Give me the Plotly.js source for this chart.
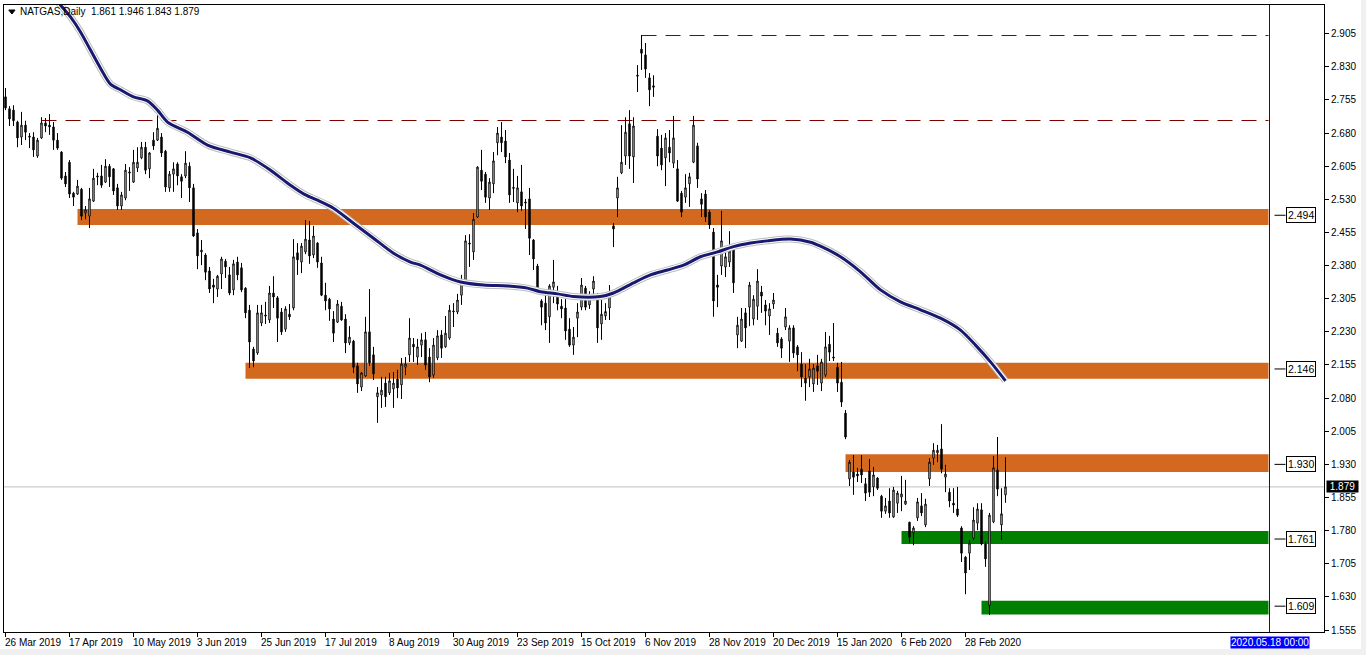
<!DOCTYPE html>
<html>
<head>
<meta charset="utf-8">
<script src="https://cdn.plot.ly/plotly-3.0.1.min.js"></script>
<style>
  html, body { margin:0; padding:0; background:#F0F0F0; }
  #chart { position:absolute; left:0; top:0; width:1361px; height:649px; background:#fff; }
</style>
</head>
<body>
<div id="chart"></div>
<script>
// ---- Daily NATGAS candles (bar 0 = 26 Mar 2019) ----
const openP = [
2.762,2.735,2.732,2.705,2.671,2.698,2.673,2.671,2.628,2.669,
2.703,2.698,2.694,2.664,2.637,2.583,2.614,2.544,2.542,2.553,
2.499,2.492,2.526,2.583,2.583,2.569,2.605,2.599,2.556,2.515,
2.533,2.592,2.569,2.601,2.624,2.648,2.599,2.664,2.664,2.671,
2.639,2.556,2.587,2.610,2.581,2.583,2.605,2.556,2.454,2.411,
2.404,2.368,2.336,2.327,2.361,2.390,2.359,2.325,2.388,2.375,
2.329,2.279,2.191,2.182,2.250,2.268,2.257,2.318,2.307,2.275,
2.236,2.270,2.284,2.409,2.388,2.411,2.438,2.404,2.431,2.386,
2.313,2.304,2.259,2.252,2.288,2.259,2.205,2.209,2.153,2.105,
2.130,2.230,2.178,2.083,2.087,2.114,2.092,2.101,2.123,2.110,
2.150,2.178,2.202,2.173,2.200,2.212,2.173,2.132,2.171,2.223,
2.196,2.216,2.275,2.275,2.313,2.341,2.431,2.411,2.490,2.596,
2.587,2.533,2.565,2.658,2.671,2.662,2.619,2.557,2.522,2.547,
2.524,2.531,2.438,2.379,2.300,2.295,2.264,2.331,2.320,2.288,
2.284,2.236,2.200,2.261,2.286,2.329,2.291,2.327,2.309,2.248,
2.266,2.284,2.470,2.533,2.590,2.628,2.701,2.626,2.811,2.870,
2.857,2.805,2.787,2.673,2.646,2.624,2.648,2.612,2.599,2.544,
2.535,2.565,2.614,2.651,2.531,2.542,2.501,2.456,2.336,2.379,
2.377,2.388,2.420,2.223,2.209,2.273,2.286,2.259,2.288,2.320,
2.291,2.266,2.293,2.227,2.214,2.241,2.209,2.239,2.196,2.157,
2.125,2.128,2.112,2.153,2.114,2.132,2.202,2.173,2.150,2.116,
2.046,1.897,1.913,1.908,1.919,1.886,1.915,1.879,1.899,1.858,
1.824,1.847,1.811,1.842,1.856,1.840,1.799,1.775,1.809,1.836,
1.793,1.897,1.944,1.956,1.965,1.901,1.867,1.842,1.829,1.786,
1.720,1.729,1.763,1.797,1.827,1.750,1.611,1.800,1.917,1.793,
1.861];
const highP = [
2.782,2.741,2.743,2.708,2.728,2.708,2.680,2.682,2.669,2.716,
2.714,2.723,2.705,2.680,2.639,2.592,2.619,2.547,2.574,2.556,
2.515,2.556,2.599,2.590,2.608,2.621,2.610,2.601,2.565,2.547,
2.610,2.603,2.642,2.648,2.660,2.660,2.637,2.682,2.728,2.680,
2.642,2.594,2.614,2.614,2.587,2.639,2.614,2.565,2.463,2.438,
2.408,2.377,2.350,2.359,2.400,2.395,2.377,2.393,2.400,2.386,
2.331,2.291,2.196,2.291,2.291,2.298,2.334,2.356,2.311,2.284,
2.288,2.293,2.440,2.431,2.431,2.483,2.481,2.470,2.433,2.400,
2.341,2.307,2.277,2.302,2.298,2.270,2.243,2.212,2.160,2.139,
2.264,2.327,2.196,2.105,2.128,2.128,2.137,2.139,2.144,2.171,
2.173,2.261,2.216,2.214,2.227,2.230,2.193,2.216,2.234,2.234,
2.266,2.291,2.295,2.316,2.359,2.449,2.451,2.499,2.605,2.642,
2.592,2.578,2.637,2.694,2.705,2.687,2.635,2.599,2.583,2.608,
2.531,2.556,2.440,2.384,2.304,2.318,2.338,2.393,2.334,2.304,
2.304,2.261,2.241,2.295,2.352,2.334,2.322,2.356,2.318,2.302,
2.295,2.336,2.476,2.581,2.698,2.716,2.732,2.716,2.834,2.902,
2.884,2.816,2.811,2.689,2.676,2.680,2.687,2.719,2.619,2.549,
2.587,2.590,2.719,2.658,2.544,2.551,2.506,2.465,2.359,2.504,
2.424,2.458,2.424,2.264,2.284,2.284,2.343,2.313,2.372,2.334,
2.302,2.295,2.318,2.239,2.218,2.284,2.245,2.245,2.200,2.184,
2.157,2.169,2.157,2.178,2.169,2.230,2.221,2.250,2.160,2.162,
2.053,1.940,1.951,1.922,1.951,1.899,1.942,1.924,1.901,1.861,
1.854,1.876,1.879,1.870,1.904,1.895,1.800,1.790,1.854,1.865,
1.852,1.944,1.978,1.974,2.021,1.929,1.876,1.876,1.879,1.790,
1.722,1.759,1.833,1.842,1.842,1.756,1.820,1.949,1.992,1.876,
1.946];
const lowP = [
2.732,2.696,2.696,2.648,2.653,2.664,2.646,2.626,2.624,2.667,
2.682,2.676,2.642,2.642,2.574,2.558,2.533,2.515,2.540,2.483,
2.485,2.465,2.524,2.562,2.556,2.567,2.558,2.540,2.506,2.506,
2.528,2.549,2.567,2.592,2.621,2.587,2.578,2.642,2.662,2.626,
2.547,2.547,2.547,2.562,2.533,2.578,2.524,2.445,2.372,2.381,
2.347,2.318,2.295,2.309,2.327,2.352,2.313,2.313,2.347,2.320,
2.261,2.148,2.150,2.178,2.243,2.248,2.250,2.284,2.207,2.223,
2.230,2.257,2.279,2.359,2.363,2.406,2.384,2.397,2.375,2.311,
2.279,2.255,2.207,2.250,2.255,2.182,2.200,2.137,2.092,2.096,
2.128,2.153,2.121,2.024,2.058,2.060,2.087,2.058,2.080,2.078,
2.132,2.162,2.162,2.155,2.173,2.144,2.116,2.126,2.166,2.171,
2.194,2.212,2.241,2.270,2.291,2.336,2.377,2.393,2.488,2.551,
2.522,2.506,2.544,2.630,2.637,2.612,2.522,2.524,2.501,2.504,
2.463,2.404,2.370,2.318,2.245,2.234,2.205,2.295,2.279,2.261,
2.212,2.196,2.178,2.218,2.279,2.279,2.282,2.302,2.205,2.212,
2.257,2.257,2.422,2.490,2.587,2.608,2.599,2.567,2.773,2.823,
2.805,2.741,2.762,2.605,2.596,2.560,2.614,2.601,2.524,2.490,
2.522,2.513,2.612,2.556,2.490,2.479,2.463,2.264,2.286,2.359,
2.354,2.377,2.318,2.193,2.207,2.193,2.243,2.245,2.257,2.273,
2.245,2.223,2.282,2.196,2.171,2.234,2.162,2.171,2.141,2.105,
2.074,2.105,2.094,2.110,2.096,2.128,2.164,2.164,2.094,2.060,
1.987,1.881,1.861,1.890,1.888,1.847,1.856,1.858,1.872,1.809,
1.818,1.809,1.809,1.820,1.824,1.838,1.752,1.747,1.802,1.813,
1.788,1.881,1.929,1.935,1.910,1.867,1.833,1.820,1.811,1.709,
1.636,1.691,1.759,1.781,1.747,1.698,1.589,1.797,1.858,1.759,
1.843];
const closeP = [
2.737,2.712,2.708,2.669,2.698,2.682,2.671,2.642,2.664,2.703,
2.696,2.694,2.664,2.646,2.578,2.565,2.542,2.535,2.560,2.492,
2.506,2.531,2.578,2.581,2.562,2.605,2.581,2.549,2.515,2.540,
2.596,2.590,2.614,2.614,2.648,2.596,2.635,2.651,2.691,2.635,
2.558,2.587,2.599,2.583,2.571,2.612,2.556,2.447,2.402,2.415,
2.365,2.327,2.331,2.356,2.395,2.377,2.318,2.384,2.359,2.325,
2.273,2.207,2.164,2.273,2.273,2.266,2.318,2.309,2.261,2.230,
2.282,2.264,2.400,2.393,2.424,2.440,2.402,2.447,2.388,2.313,
2.300,2.282,2.227,2.293,2.257,2.205,2.218,2.150,2.112,2.137,
2.230,2.160,2.135,2.092,2.098,2.083,2.119,2.114,2.103,2.157,
2.157,2.216,2.196,2.196,2.212,2.155,2.128,2.200,2.221,2.193,
2.227,2.279,2.277,2.302,2.343,2.436,2.429,2.485,2.603,2.571,
2.535,2.569,2.617,2.680,2.658,2.626,2.540,2.555,2.556,2.515,
2.522,2.442,2.395,2.320,2.286,2.250,2.334,2.343,2.293,2.282,
2.232,2.200,2.218,2.275,2.336,2.286,2.313,2.345,2.239,2.270,
2.276,2.320,2.463,2.556,2.614,2.682,2.628,2.696,2.809,2.861,
2.825,2.778,2.784,2.628,2.608,2.669,2.635,2.669,2.526,2.501,
2.556,2.581,2.698,2.576,2.519,2.490,2.472,2.300,2.331,2.436,
2.400,2.413,2.341,2.245,2.259,2.239,2.336,2.304,2.345,2.311,
2.277,2.282,2.302,2.205,2.193,2.264,2.239,2.182,2.178,2.128,
2.114,2.146,2.148,2.141,2.162,2.196,2.184,2.171,2.114,2.071,
1.992,1.935,1.901,1.904,1.906,1.865,1.867,1.906,1.876,1.824,
1.836,1.820,1.872,1.865,1.863,1.847,1.765,1.786,1.845,1.820,
1.840,1.935,1.962,1.962,1.919,1.908,1.847,1.838,1.815,1.729,
1.684,1.752,1.804,1.829,1.750,1.716,1.815,1.922,1.874,1.818,
1.879];

// Moving average (read at sample bars)
const maBar = [10,13.75,16.25,18.75,21.25,23.75,26.25,28.75,32,35.5,38,40.5,45.5,50.5,56.25,61.25,66.25,71.25,75,78,82,87,92,97,101.25,103.75,108.75,113.75,119.5,125.5,130.5,133.75,138,142,148.75,152,157,161.25,165.5,169.5,173.75,178,182,186.25,190.5,196.25,201.25,203.75,208.75,213.75,218.75,223.75,228.75,233.75,238.75,242.5,246.25,250];
const maVal = [3.010,2.970,2.943,2.909,2.868,2.827,2.791,2.778,2.762,2.753,2.732,2.705,2.682,2.653,2.637,2.624,2.596,2.562,2.540,2.528,2.510,2.476,2.442,2.408,2.388,2.381,2.359,2.343,2.336,2.334,2.329,2.321,2.316,2.310,2.310,2.318,2.341,2.359,2.370,2.381,2.400,2.411,2.423,2.431,2.436,2.440,2.433,2.424,2.400,2.366,2.325,2.298,2.280,2.261,2.234,2.200,2.162,2.119];

// Time axis labels (every 16 bars)
const tickBars = [0,16,32,48,64,80,96,112,128,144,160,176,192,208,224,240];
const tickLabels = ['26 Mar 2019','17 Apr 2019','10 May 2019','3 Jun 2019','25 Jun 2019','17 Jul 2019','8 Aug 2019','30 Aug 2019','23 Sep 2019','15 Oct 2019','6 Nov 2019','28 Nov 2019','20 Dec 2019','15 Jan 2020','6 Feb 2020','28 Feb 2020'];
const priceTicks = [2.905,2.830,2.755,2.680,2.605,2.530,2.455,2.380,2.305,2.230,2.155,2.080,2.005,1.930,1.855,1.780,1.705,1.630,1.555];

// Zones (supply/demand rectangles)
const zoneStart = [18, 60, 210, 224, 244];
const zoneLow   = [2.472, 2.124, 1.913, 1.750, 1.590];
const zoneHigh  = [2.508, 2.160, 1.953, 1.779, 1.621];
const zoneLabel = [2.494, 2.146, 1.930, 1.761, 1.609];
const zoneColor = ['#D2691E','#D2691E','#D2691E','#008000','#008000'];
// Horizontal dashed levels
const levelPrice = [2.7085, 2.9009];
const levelStart = [9, 159];
const lastPrice = 1.879;
const objEnd = 315.75;
const sepBar = 316.0;
const sepLabel = '2020.05.18 00:00';
const titleText = 'NATGAS,Daily  1.861 1.946 1.843 1.879';

const bars = openP.map((_, i) => i);
const FONT = 'Liberation Sans, Arial, sans-serif';

const traces = [
  {
    type: 'candlestick', x: bars, open: openP, high: highP, low: lowP, close: closeP,
    increasing: { line: { color: '#000', width: 1 }, fillcolor: '#fff' },
    decreasing: { line: { color: '#000', width: 1 }, fillcolor: '#000' },
    whiskerwidth: 0, hoverinfo: 'skip', showlegend: false
  },
  { type: 'scatter', mode: 'lines', x: maBar, y: maVal, line: { color: '#bcbcbc', width: 7, shape: 'spline', smoothing: 0.8 }, hoverinfo: 'skip' },
  { type: 'scatter', mode: 'lines', x: maBar, y: maVal, line: { color: '#ffffff', width: 5, shape: 'spline', smoothing: 0.8 }, hoverinfo: 'skip' },
  { type: 'scatter', mode: 'lines', x: maBar, y: maVal, line: { color: '#191970', width: 3, shape: 'spline', smoothing: 0.8 }, hoverinfo: 'skip' }
];

const shapes = [];
zoneStart.forEach((s, k) => {
  shapes.push({ type: 'rect', layer: 'below', xref: 'x', yref: 'y', x0: s, x1: objEnd, y0: zoneLow[k], y1: zoneHigh[k], fillcolor: zoneColor[k], line: { width: 0 } });
  shapes.push({ type: 'line', layer: 'above', xref: 'x', yref: 'y', x0: 317.25, x1: 320, y0: zoneLabel[k], y1: zoneLabel[k], line: { color: '#000', width: 1 } });
});
levelPrice.forEach((p, k) => {
  shapes.push({ type: 'line', layer: 'below', xref: 'x', yref: 'y', x0: levelStart[k], x1: objEnd, y0: p, y1: p, line: { color: '#800000', width: 1, dash: '15px,9px' } });
});
shapes.push({ type: 'line', layer: 'below', xref: 'paper', yref: 'y', x0: 0, x1: 1, y0: lastPrice, y1: lastPrice, line: { color: '#C0C0C0', width: 1 } });
shapes.push({ type: 'line', layer: 'below', xref: 'x', yref: 'paper', x0: sepBar, x1: sepBar, y0: 0, y1: 1, line: { color: '#0000FF', width: 1 } });
// small triangle before the title
shapes.push({ type: 'path', layer: 'above', xref: 'paper', yref: 'paper', path: 'M 0.0036 0.9920 L 0.0084 0.9920 L 0.0060 0.9856 Z', fillcolor: '#000', line: { color: '#000', width: 1 } });

const annotations = [];
tickBars.forEach((b, k) => {
  annotations.push({ xref: 'x', yref: 'paper', x: b - 0.3, y: -0.0165, xanchor: 'left', yanchor: 'middle', text: tickLabels[k], showarrow: false, font: { family: FONT, size: 10, color: '#000' }, borderpad: 0 });
});
zoneLabel.forEach((v) => {
  annotations.push({ xref: 'x', yref: 'y', x: 320, y: v, xanchor: 'left', yanchor: 'middle', text: v.toFixed(3), showarrow: false, font: { family: FONT, size: 10.5, color: '#000' }, bgcolor: '#fff', bordercolor: '#000', borderwidth: 1, borderpad: 1 });
});
annotations.push({ xref: 'paper', yref: 'y', x: 1.0015, y: lastPrice, xanchor: 'left', yanchor: 'middle', text: '&nbsp;' + lastPrice.toFixed(3) + '&nbsp;', showarrow: false, font: { family: FONT, size: 10, color: '#fff' }, bgcolor: '#000', borderpad: 0 });
annotations.push({ xref: 'x', yref: 'paper', x: sepBar, y: -0.0165, xanchor: 'center', yanchor: 'middle', text: sepLabel, showarrow: false, font: { family: FONT, size: 10, color: '#fff' }, bgcolor: '#0000FF', borderpad: 0 });
annotations.push({ xref: 'paper', yref: 'paper', x: 0.0115, y: 0.989, xanchor: 'left', yanchor: 'middle', text: titleText, showarrow: false, font: { family: FONT, size: 10, color: '#000' }, borderpad: 0 });

const layout = {
  width: 1361, height: 649,
  margin: { l: 4, r: 37, t: 5, b: 17, pad: 0 },
  paper_bgcolor: '#fff', plot_bgcolor: '#fff',
  showlegend: false,
  boxgap: 0.5,
  font: { family: FONT, size: 10, color: '#000' },
  xaxis: {
    type: 'linear', range: [-0.375, 329.625], automargin: false,
    showgrid: false, zeroline: false, showline: true, linecolor: '#000', linewidth: 1, mirror: true,
    ticks: 'outside', ticklen: 4, tickcolor: '#000', tickwidth: 1,
    tickmode: 'array', tickvals: tickBars, showticklabels: false,
    rangeslider: { visible: false }
  },
  yaxis: {
    range: [1.5505, 2.970], side: 'right', automargin: false,
    showgrid: false, zeroline: false, showline: true, linecolor: '#000', linewidth: 1, mirror: true,
    ticks: 'outside', ticklen: 4, tickcolor: '#000', tickwidth: 1,
    tickmode: 'array', tickvals: priceTicks, ticktext: priceTicks.map(v => v.toFixed(3)),
    tickfont: { family: FONT, size: 10, color: '#000' }
  },
  shapes: shapes,
  annotations: annotations
};

Plotly.newPlot('chart', traces, layout, { staticPlot: true, displayModeBar: false });
</script>
</body>
</html>
